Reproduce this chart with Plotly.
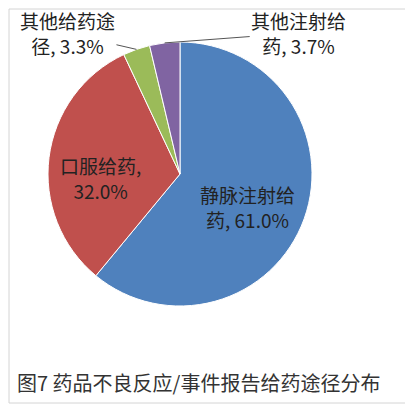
import math
import plotly.graph_objects as go

# data
routes = ["静脉注射给药", "口服给药", "其他给药途径", "其他注射给药"]
shares = [61.0, 32.0, 3.3, 3.7]
label_lines = [("静脉注射给", "药"), ("口服给药", ""), ("其他给药途", "径"), ("其他注射给", "药")]
caption = "图7 药品不良反应/事件报告给药途径分布"

colors = ["#4F81BD", "#C0504D", "#9BBB59", "#8064A2"]
W, H = 413, 407
OFF = 8  # page body margin shifts everything by 8px
FONT = "Noto Sans CJK SC, Microsoft YaHei, sans-serif"


def px_x(x):
    return (x - OFF) / W


def px_y(y):
    return (H - (y - OFF)) / H


# pie placement in picture pixels
cx, cy, r = 180, 174, 132

fig = go.Figure(go.Pie(
    labels=routes,
    values=shares,
    textinfo="none",
    sort=False,
    direction="clockwise",
    rotation=0,
    marker=dict(colors=colors, line=dict(color="white", width=1)),
    domain=dict(x=[px_x(cx - r), px_x(cx + r)], y=[px_y(cy + r), px_y(cy - r)]),
    showlegend=False,
    hoverinfo="label+percent",
))

# data labels: inside ones sit in the slice, the two thin slices get a leader line
inside_pos = {0: (248, 207), 1: (100, 178)}
outside_offset = {2: (-69, -16), 3: (134, -10)}
total = sum(shares)
start = 0.0
for i, v in enumerate(shares):
    mid = start + v / total * 360 / 2
    start += v / total * 360
    first, second = label_lines[i]
    if second:
        txt = f"{first}<br>{second}, {v:.1f}%"
    else:
        txt = f"{first},<br>{v:.1f}%"
    font = dict(family=FONT, size=19, color="#222")
    if i in inside_pos:
        lx, ly = inside_pos[i]
        fig.add_annotation(x=px_x(lx), y=px_y(ly), xref="paper", yref="paper",
                           xanchor="center", yanchor="middle",
                           text=txt, showarrow=False, font=font)
    else:
        a = math.radians(mid)
        tx = cx + r * math.sin(a)
        ty = cy - r * math.cos(a)
        ax, ay = outside_offset[i]
        fig.add_annotation(
            x=px_x(tx), y=px_y(ty), xref="paper", yref="paper",
            text=txt, showarrow=True, arrowhead=0, arrowwidth=1,
            arrowcolor="#555", ax=ax, ay=ay, font=font,
        )

fig.add_annotation(
    x=px_x(15), y=px_y(382), xref="paper", yref="paper",
    xanchor="left", yanchor="middle", showarrow=False, text=caption,
    font=dict(family=FONT, size=20, color="#333"),
)

fig.add_shape(type="rect", xref="paper", yref="paper",
              x0=px_x(9), x1=px_x(410), y0=px_y(403), y1=px_y(9),
              line=dict(color="#d4d4d4", width=1))

fig.update_layout(
    width=W, height=H,
    margin=dict(l=0, r=0, t=0, b=0),
    paper_bgcolor="white",
    plot_bgcolor="white",
)

fig.write_html("out.html")
